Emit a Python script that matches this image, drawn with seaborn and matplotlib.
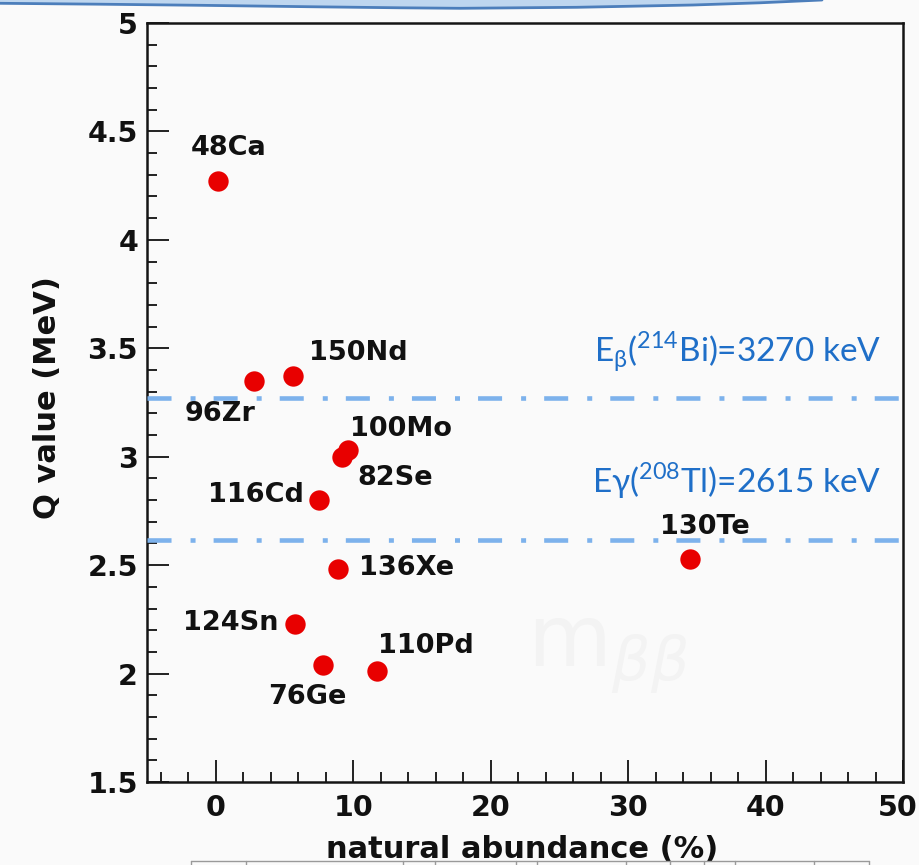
import matplotlib
matplotlib.use("Agg")
import matplotlib.pyplot as plt
from matplotlib.ticker import MultipleLocator, FuncFormatter
from matplotlib.patches import Polygon
from matplotlib.lines import Line2D
from matplotlib.transforms import ScaledTranslation
import seaborn as sns
import pandas as pd

# Double-beta-decay candidate isotopes
isotopes = ["48Ca", "76Ge", "82Se", "96Zr", "100Mo", "110Pd",
            "116Cd", "124Sn", "130Te", "136Xe", "150Nd"]
abundance = [0.19, 7.8, 9.2, 2.8, 9.6, 11.7, 7.5, 5.8, 34.5, 8.9, 5.6]   # %
q_value = [4.27, 2.04, 3.00, 3.35, 3.03, 2.01, 2.80, 2.23, 2.53, 2.48, 3.37]  # MeV

# Background reference energies (MeV) and their captions
bkg_energy = [3.270, 2.615]
bkg_label = [r"E$_{\mathregular{β}}$($^{\mathregular{214}}$Bi)=3270 keV",
             r"Eγ($^{\mathregular{208}}$Tl)=2615 keV"]

x_ticks = [0, 10, 20, 30, 40, 50]
y_ticks = [1.5, 2, 2.5, 3, 3.5, 4, 4.5, 5]

# label placement around each marker: (dx px, dy px, horizontal alignment)
label_place = {
    "48Ca": (10, 33, "center"), "96Zr": (-34, -33, "center"),
    "150Nd": (16, 23, "left"), "100Mo": (2, 21, "left"),
    "82Se": (15, -21, "left"), "116Cd": (-15, 5, "right"),
    "136Xe": (21, 1, "left"), "124Sn": (-17, 1, "right"),
    "110Pd": (1, 25, "left"), "76Ge": (-16, -32, "center"),
    "130Te": (15, 32, "center"),
}

df = pd.DataFrame({"isotope": isotopes, "abundance": abundance, "q": q_value})

sns.set_style("white")
plt.rcParams["font.family"] = ["DejaVu Sans"]
plt.rcParams["mathtext.fontset"] = "custom"
plt.rcParams["mathtext.rm"] = "Lato"
plt.rcParams["mathtext.fallback"] = "stixsans"
plt.rcParams["lines.scale_dashes"] = False

W, H = 920, 865
fig = plt.figure(figsize=(W / 100, H / 100), dpi=100, facecolor="#fafafa")


def fx(px):
    return px / W


def fy(py):
    return 1 - py / H


# faint slide watermark behind the plot
fig.text(fx(527), fy(667), r"$\mathregular{m}_{ββ}$", fontsize=62,
         color="#f3f3f3", ha="left", va="baseline", zorder=0)

ax = fig.add_axes([fx(147), fy(782), (903 - 147) / W, (782 - 23) / H])
ax.set_facecolor("none")

sns.scatterplot(data=df, x="abundance", y="q", ax=ax, s=215,
                color="#e80000", linewidth=0, zorder=5, legend=False)

for name, xv, yv in zip(isotopes, abundance, q_value):
    dx, dy, ha = label_place[name]
    ax.annotate(name, xy=(xv, yv), xytext=(dx, dy), textcoords="offset pixels",
                ha=ha, va="center", fontsize=19.5, fontweight="bold",
                color="#111111", zorder=3)

dash_pattern = (0, (17.3, 13.7, 3.6, 13.0))
for e in bkg_energy:
    ax.axhline(e, color="#7db2ec", lw=3.3, linestyle=dash_pattern,
               solid_capstyle="butt", dash_capstyle="butt", zorder=4)

caption_y = [3.437, 2.833]
for txt, cy in zip(bkg_label, caption_y):
    ax.text(48.4, cy, txt, ha="right", va="baseline", fontsize=24,
            family=["Lato", "DejaVu Sans"], color="#1f6fc8", zorder=6)

ax.set_xlim(-5, 50)
ax.set_ylim(1.5, 5)
ax.set_xticks(x_ticks)
ax.set_yticks(y_ticks)
ax.xaxis.set_minor_locator(MultipleLocator(2))
ax.yaxis.set_minor_locator(MultipleLocator(0.1))
fmt = FuncFormatter(lambda v, p: f"{v:g}")
ax.xaxis.set_major_formatter(fmt)
ax.yaxis.set_major_formatter(fmt)

ax.tick_params(axis="both", which="major", direction="in", length=16, width=1.4,
               labelsize=20.5, color="#222222", labelcolor="#111111")
ax.tick_params(axis="both", which="minor", direction="in", length=7, width=1.4,
               color="#222222")
ax.tick_params(axis="y", which="both", left=True, right=False, pad=6.5)
ax.tick_params(axis="x", which="both", bottom=True, top=False, pad=9)
for lab in ax.get_xticklabels() + ax.get_yticklabels():
    lab.set_fontweight("bold")

for sp in ax.spines.values():
    sp.set_linewidth(1.8)
    sp.set_color("#151515")

ax.set_xlabel("natural abundance (%)", fontsize=22, fontweight="bold",
              color="#111111", va="baseline")
ax.xaxis.set_label_coords(0.496, -0.100)
ax.set_ylabel("Q value (MeV)", fontsize=22, fontweight="bold", color="#111111",
              va="center")
ax.yaxis.set_label_coords(-0.131, 0.506)

# keep the last x tick label inside the canvas
fig.canvas.draw()
last = ax.get_xticklabels()[-1]
last.set_transform(last.get_transform() +
                   ScaledTranslation(-0.05, 0, fig.dpi_scale_trans))

# slide banner edge across the top
curve = [(0, 3.3), (100, 4.2), (200, 5.3), (307, 6.7), (400, 7.8), (460, 8.3),
         (577, 7.3), (693, 5.0), (760, 2.8), (822, 0)]
fill_pts = [(fx(0), fy(0))] + [(fx(a), fy(b)) for a, b in curve] + [(fx(822), fy(0))]
fig.patches.append(Polygon(fill_pts, closed=True, transform=fig.transFigure,
                           facecolor="#bed6ef", edgecolor="none", zorder=1))
fig.lines.append(Line2D([fx(a) for a, b in curve], [fy(b) for a, b in curve],
                        transform=fig.transFigure, color="#4c7ebb", lw=2,
                        zorder=2))

# edge of the table below the plot
fig.lines.append(Line2D([fx(191), fx(869)], [fy(861), fy(861)],
                        transform=fig.transFigure, color="#9a9a9a", lw=1))
for xv in [191, 246, 403, 435, 516, 537, 626, 670, 704, 735, 814, 869]:
    fig.lines.append(Line2D([fx(xv), fx(xv)], [fy(861), fy(866)],
                            transform=fig.transFigure, color="#9a9a9a", lw=1))

fig.savefig("out.png", dpi=100, facecolor=fig.get_facecolor())
